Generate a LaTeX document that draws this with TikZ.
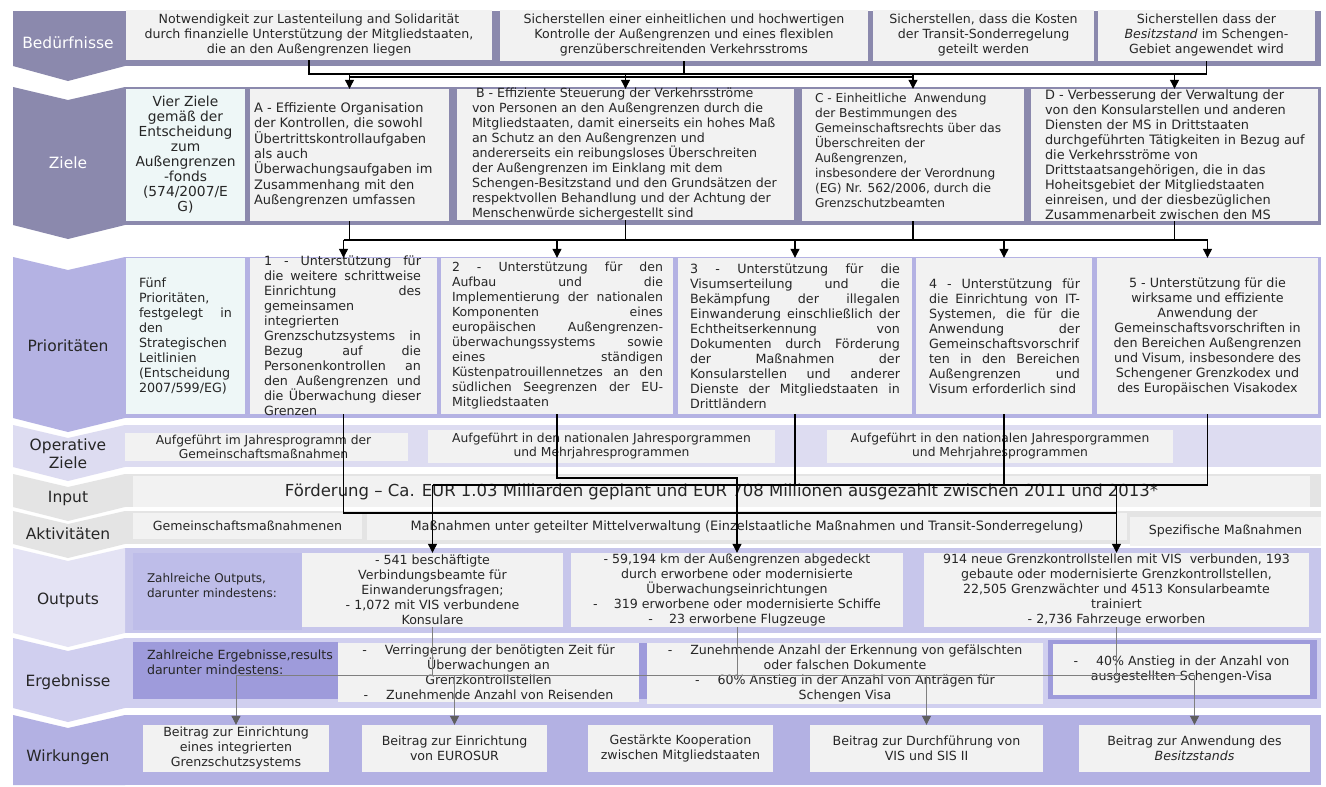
\documentclass[tikz,border=0pt]{standalone}
\usepackage{fontspec}
\setmainfont{DejaVu Sans}
\usetikzlibrary{arrows.meta,fit}

\definecolor{needc}{HTML}{8B89AD}
\definecolor{prioc}{HTML}{B4B2E3}
\definecolor{opc}{HTML}{DDDCF1}
\definecolor{inc}{HTML}{E4E4E4}
\definecolor{outc}{HTML}{E4E3F4}
\definecolor{outb}{HTML}{C7C6EB}
\definecolor{outl}{HTML}{BEBDE9}
\definecolor{ergc}{HTML}{D0CFEF}
\definecolor{ergd}{HTML}{9E9BDB}
\definecolor{wirkc}{HTML}{B3B1E3}
\definecolor{boxc}{HTML}{F2F2F2}
\definecolor{cyanc}{HTML}{EEF7F7}
\definecolor{textc}{HTML}{262626}
\definecolor{lineg}{HTML}{7F7F7F}
\definecolor{tipg}{HTML}{5F5F5F}

\newcommand{\fs}{\fontsize{12.6}{15}\selectfont}
\newcommand{\fp}{\fontsize{12.7}{15}\selectfont}
\newcommand{\fo}{\fontsize{12.3}{14}\selectfont}
\newcommand{\fl}{\fontsize{15.5}{18}\selectfont}
\newcommand{\fin}{\fontsize{16.5}{19}\selectfont}
% one justified line filling the text width (font interword glue restored)
\newcommand{\jl}[1]{\makebox[\hsize][s]{\spaceskip=0pt\xspaceskip=0pt #1}}
% filled box spanned by two corners
\newcommand{\bx}[6]{\node[fit={(#2,#3) (#4,#5)}, inner sep=0pt, #6] (#1) {};}
% row band with its chevron label field: top, bottom, band colour, chevron colour
\newcommand{\rowband}[4]{%
  \fill[#3] (125,#1) rectangle (1321,#2);
  \fill[#4] (13,#1) -- (68,#1+13) -- (125,#1) -- (125,#2) -- (68,#2+14) -- (13,#2) -- cycle;}

\tikzset{
  box/.style={fill=boxc},
  cbox/.style={fill=cyanc},
  txt/.style={inner sep=0pt, font=\fs, text=textc, align=center},
  ptxt/.style={txt, font=\fp, anchor=west, align=left},
  lab/.style={inner sep=0pt, font=\fl, text=textc, align=center},
  conn/.style={draw=black, line width=1.1pt},
  arr/.style={conn, -{Triangle[length=9pt,width=9pt]}},
  gconn/.style={draw=lineg, line width=1pt},
  garr/.style={gconn, -{Triangle[length=9pt,width=9pt,color=tipg]}},
}

\begin{document}
\begin{tikzpicture}[x=1pt,y=-1pt]
\useasboundingbox (0,0) rectangle (1326,787);
\fill[white] (0,0) rectangle (1326,787);

% ---------- row bands and chevrons ----------
\fill[needc] (125,11) rectangle (1321,66);
\fill[needc] (13,11) -- (125,11) -- (125,66) -- (68,81) -- (13,66) -- cycle;
\rowband{87}{225}{needc}{needc}
\rowband{257}{418}{prioc}{prioc}
\rowband{425}{467}{opc}{opc}
\rowband{474}{507}{inc}{inc}
\rowband{511}{544}{inc}{inc}
\rowband{548}{633}{outb}{outc}
\rowband{638}{708}{ergc}{ergc}
\fill[wirkc] (125,715) rectangle (1321,785);
\fill[wirkc] (13,715) -- (68,728) -- (125,715) -- (125,785) -- (13,785) -- cycle;

% ---------- row labels ----------
\node[lab, text=white] (l1) at (68,43) {Bedürfnisse};
\node[lab, text=white] (l2) at (68,163) {Ziele};
\node[lab] (l3) at (68,346) {Prioritäten};
\node[lab] (l4) at (68,454) {Operative\\Ziele};
\node[lab] (l5) at (68,498) {Input};
\node[lab] (l6) at (68,534) {Aktivitäten};
\node[lab] (l7) at (68,600) {Outputs};
\node[lab] (l8) at (68,682) {Ergebnisse};
\node[lab] (l9) at (68,757) {Wirkungen};

% ---------- boxes ----------
\bx{n1}{126}{10}{492}{60}{box}
\bx{n2}{500}{10}{868}{61}{box}
\bx{n3}{873}{10}{1094}{61}{box}
\bx{n4}{1098}{10}{1315}{61}{box}
\bx{z0}{126}{89}{245}{221}{cbox}
\bx{zA}{250}{89}{449}{221}{box}
\bx{zB}{457}{89}{794}{220}{box}
\bx{zC}{802}{89}{1024}{221}{box}
\bx{zD}{1031}{89}{1318}{221}{box}
\bx{p0}{126}{258}{245}{414}{cbox}
\bx{p1}{250}{258}{437}{414}{box}
\bx{p2}{441}{258}{673}{414}{box}
\bx{p3}{678}{258}{912}{414}{box}
\bx{p4}{916}{258}{1092}{414}{box}
\bx{p5}{1097}{258}{1318}{414}{box}
\bx{o1}{125}{433}{408}{461}{box}
\bx{o2}{428}{430}{775}{463}{box}
\bx{o3}{827}{430}{1173}{463}{box}
\bx{inp}{133}{476}{1310}{507}{box}
\bx{a1}{133}{513}{362}{539}{box}
\bx{a2}{367}{513}{1127}{540}{box}
\bx{a3}{1130}{517}{1321}{546}{box}
\bx{oz}{133}{553}{302}{630}{fill=outl}
\bx{out1}{302}{553}{563}{627}{box}
\bx{out2}{571}{553}{903}{627}{box}
\bx{out3}{924}{553}{1309}{627}{box}
\bx{ez}{133}{642}{338}{699}{fill=ergd}
\bx{e1}{338}{643}{639}{702}{box}
\fill[ergd] (639,643) rectangle (647,699);
\bx{e2}{647}{643}{1043}{704}{box}
\bx{e3f}{1048}{640}{1317}{699}{fill=ergd}
\bx{e3}{1053}{644}{1310}{695}{box}
\bx{w1}{143}{725}{329}{772}{box}
\bx{w2}{362}{725}{547}{772}{box}
\bx{w3}{588}{725}{773}{772}{box}
\bx{w4}{810}{725}{1043}{772}{box}
\bx{w5}{1079}{725}{1310}{772}{box}

% ---------- texts: needs ----------
\node[txt] (n1t) at (n1) {Notwendigkeit zur Lastenteilung and Solidarität\\durch finanzielle Unterstützung der Mitgliedstaaten,\\die an den Außengrenzen liegen};
\node[txt] (n2t) at (n2) {Sicherstellen einer einheitlichen und hochwertigen\\Kontrolle der Außengrenzen und eines flexiblen\\grenzüberschreitenden Verkehrsstroms};
\node[txt] (n3t) at (n3) {Sicherstellen, dass die Kosten\\der Transit-Sonderregelung\\geteilt werden};
\node[txt] (n4t) at (n4) {Sicherstellen dass der\\\textit{Besitzstand} im Schengen-\\Gebiet angewendet wird};

% ---------- texts: objectives ----------
\node[txt, font=\fontsize{13.8}{15}\selectfont] (z0t) at (z0) {Vier Ziele\\gemäß der\\Entscheidung\\zum\\Außengrenzen\\-fonds\\(574/2007/E\\G)};
\node[txt, font=\fontsize{13}{15.3}\selectfont, anchor=west, align=left] (zAt) at ([xshift=4pt]zA.west) {A - Effiziente Organisation\\der Kontrollen, die sowohl\\Übertrittskontrollaufgaben\\als auch\\Überwachungsaufgaben im\\Zusammenhang mit den\\Außengrenzen umfassen};
\node[txt, anchor=west, align=left] (zBt) at ([xshift=15pt]zB.west) {\hspace*{4pt}B - Effiziente Steuerung der Verkehrsströme\\von Personen an den Außengrenzen durch die\\Mitgliedstaaten, damit einerseits ein hohes Maß\\an Schutz an den Außengrenzen und\\andererseits ein reibungsloses Überschreiten\\der Außengrenzen im Einklang mit dem\\Schengen-Besitzstand und den Grundsätzen der\\respektvollen Behandlung und der Achtung der\\Menschenwürde sichergestellt sind};
\node[txt, font=\fontsize{12.2}{15}\selectfont, anchor=west, align=left] (zCt) at ([xshift=13pt,yshift=5pt]zC.west) {C - Einheitliche\ \ Anwendung\\der Bestimmungen des\\Gemeinschaftsrechts über das\\Überschreiten der\\Außengrenzen,\\insbesondere der Verordnung\\(EG) Nr. 562/2006, durch die\\Grenzschutzbeamten};
\node[txt, font=\fontsize{12.9}{15}\selectfont, anchor=west, align=left] (zDt) at ([xshift=14pt]zD.west) {D - Verbesserung der Verwaltung der\\von den Konsularstellen und anderen\\Diensten der MS in Drittstaaten\\durchgeführten Tätigkeiten in Bezug auf\\die Verkehrsströme von\\Drittstaatsangehörigen, die in das\\Hoheitsgebiet der Mitgliedstaaten\\einreisen, und der diesbezüglichen\\Zusammenarbeit zwischen den MS};

% ---------- texts: priorities ----------
\node[ptxt, text width=93pt] (p0t) at ([xshift=13pt]p0.west) {Fünf\\Prioritäten,\\\jl{festgelegt in}\\den\\Strategischen\\Leitlinien\\(Entscheidung\\2007/599/EG)};
\node[ptxt, text width=157pt] (p1t) at ([xshift=14pt]p1.west) {\jl{1 - Unterstützung für}\\\jl{die weitere schrittweise}\\\jl{Einrichtung des}\\gemeinsamen\\integrierten\\\jl{Grenzschutzsystems in}\\\jl{Bezug auf die}\\\jl{Personenkontrollen an}\\\jl{den Außengrenzen und}\\\jl{die Überwachung dieser}\\Grenzen};
\node[ptxt, font=\fontsize{12.5}{15}\selectfont, text width=211pt] (p2t) at ([xshift=11pt]p2.west) {\jl{2 - Unterstützung für den}\\\jl{Aufbau und die}\\\jl{Implementierung der nationalen}\\\jl{Komponenten eines}\\\jl{europäischen Außengrenzen-}\\\jl{überwachungssystems sowie}\\\jl{eines ständigen}\\\jl{Küstenpatrouillennetzes an den}\\\jl{südlichen Seegrenzen der EU-}\\Mitgliedstaaten};
\node[ptxt, text width=210pt] (p3t) at ([xshift=12pt]p3.west) {\jl{3 - Unterstützung für die}\\\jl{Visumserteilung und die}\\\jl{Bekämpfung der illegalen}\\\jl{Einwanderung einschließlich der}\\\jl{Echtheitserkennung von}\\\jl{Dokumenten durch Förderung}\\\jl{der Maßnahmen der}\\\jl{Konsularstellen und anderer}\\\jl{Dienste der Mitgliedstaaten in}\\Drittländern};
\node[ptxt, text width=151pt] (p4t) at ([xshift=13pt]p4.west) {\jl{4 - Unterstützung für}\\\jl{die Einrichtung von IT-}\\\jl{Systemen, die für die}\\\jl{Anwendung der}\\Gemeinschaftsvorschrif\\\jl{ten in den Bereichen}\\\jl{Außengrenzen und}\\Visum erforderlich sind};
\node[txt, font=\fp] (p5t) at (p5) {5 - Unterstützung für die\\wirksame und effiziente\\Anwendung der\\Gemeinschaftsvorschriften in\\den Bereichen Außengrenzen\\und Visum, insbesondere des\\Schengener Grenzkodex und\\des Europäischen Visakodex};

% ---------- texts: operative objectives, input, activities ----------
\node[txt, font=\fo] (o1t) at ([xshift=-3pt]o1) {Aufgeführt im Jahresprogramm der\\Gemeinschaftsmaßnahmen};
\node[txt, font=\fo] (o2t) at (o2) {Aufgeführt in den nationalen Jahresporgrammen\\und Mehrjahresprogrammen};
\node[txt, font=\fo] (o3t) at (o3) {Aufgeführt in den nationalen Jahresporgrammen\\und Mehrjahresprogrammen};
\node[txt, font=\fin] (inpt) at (inp) {Förderung – Ca. EUR 1.03 Milliarden geplant und EUR 708 Millionen ausgezahlt zwischen 2011 und 2013*};
\node[txt] (a1t) at (a1) {Gemeinschaftsmaßnahmenen};
\node[txt, font=\fontsize{12.9}{15}\selectfont] (a2t) at (a2) {Maßnahmen unter geteilter Mittelverwaltung (Einzelstaatliche Maßnahmen und Transit-Sonderregelung)};
\node[txt] (a3t) at (a3) {Spezifische Maßnahmen};

% ---------- texts: outputs ----------
\node[txt, font=\fontsize{12}{15}\selectfont, anchor=west, align=left] (ozt) at ([xshift=14pt,yshift=6pt]oz.west) {Zahlreiche Outputs,\\darunter mindestens:};
\node[txt] (out1t) at (out1) {- 541 beschäftigte\\Verbindungsbeamte für\\Einwanderungsfragen;\\- 1,072 mit VIS verbundene\\Konsulare};
\node[txt] (out2t) at (out2) {- 59,194 km der Außengrenzen abgedeckt\\durch erworbene oder modernisierte\\Überwachungseinrichtungen\\-\hspace{16pt}319 erworbene oder modernisierte Schiffe\\-\hspace{16pt}23 erworbene Flugzeuge};
\node[txt] (out3t) at (out3) {914 neue Grenzkontrollstellen mit VIS\ \ verbunden, 193\\gebaute oder modernisierte Grenzkontrollstellen,\\22,505 Grenzwächter und 4513 Konsularbeamte\\trainiert\\- 2,736 Fahrzeuge erworben};

% ---------- texts: results ----------
\node[txt, anchor=west, align=left] (ezt) at ([xshift=14pt,yshift=8pt]ez.west) {Zahlreiche Ergebnisse,results\\darunter mindestens:};
\node[txt] (e1t) at (e1) {-\hspace{18pt}Verringerung der benötigten Zeit für\\Überwachungen an\\Grenzkontrollstellen\\-\hspace{18pt}Zunehmende Anzahl von Reisenden};
\node[txt] (e2t) at (e2) {-\hspace{18pt}Zunehmende Anzahl der Erkennung von gefälschten\\oder falschen Dokumente\\-\hspace{18pt}60\% Anstieg in der Anzahl von Anträgen für\\Schengen Visa};
\node[txt] (e3t) at (e3) {-\hspace{18pt}40\% Anstieg in der Anzahl von\\ausgestellten Schengen-Visa};

% ---------- texts: impacts ----------
\node[txt] (w1t) at (w1) {Beitrag zur Einrichtung\\eines integrierten\\Grenzschutzsystems};
\node[txt] (w2t) at (w2) {Beitrag zur Einrichtung\\von EUROSUR};
\node[txt] (w3t) at (w3) {Gestärkte Kooperation\\zwischen Mitgliedstaaten};
\node[txt] (w4t) at (w4) {Beitrag zur Durchführung von\\VIS und SIS II};
\node[txt] (w5t) at (w5) {Beitrag zur Anwendung des\\\textit{Besitzstands}};

% ---------- connectors ----------
\coordinate (yN) at (0,74);
\coordinate (yN2) at (0,77);
\coordinate (yZ) at (0,240);
\coordinate (yA) at (0,478);
\coordinate (yH) at (0,485);
\coordinate (yP) at (0,513);
\coordinate (yG) at (0,675);

% needs -> objectives
\draw[conn] (n1.south) -- (n1.south |- yN) -- (n4.south |- yN) -- (n4.south);
\draw[conn] (n2.south) -- (n2.south |- yN);
\draw[conn] (zA.north |- yN2) -- (zC.north |- yN2);
\foreach \z in {zA,zB,zC,zD} \draw[arr] (\z.north |- yN) -- (\z.north);

% objectives -> priorities
\foreach \z in {zA,zB,zC,zD} \draw[conn] (\z.south) -- (\z.south |- yZ);
\draw[conn] (p1.north |- yZ) -- (p5.north |- yZ);
\foreach \p in {p1,p2,p3,p4,p5} \draw[arr] (\p.north |- yZ) -- (\p.north);

% priorities -> outputs
\draw[conn] (p1.south) -- (p1.south |- yP) -- (out3.north |- yP);
\draw[arr] (p2.south) -- (p2.south |- yA) -- (out2.north |- yA) -- (out2.north);
\foreach \p in {p3,p4,p5} \draw[conn] (\p.south) -- (\p.south |- yH);
\draw[conn] (out1.north |- yH) -- (p5.south |- yH);
\draw[arr] (out1.north |- yH) -- (out1.north);
\draw[arr] (out3.north |- yH) -- (out3.north);

% outputs -> impacts
\foreach \o in {out1,out2,out3} \draw[gconn] (\o.south) -- (\o.south |- yG);
\draw[gconn] (w1.north |- yG) -- (w5.north |- yG);
\foreach \w in {w1,w2,w4,w5} \draw[garr] (\w.north |- yG) -- (\w.north);
\end{tikzpicture}
\end{document}
